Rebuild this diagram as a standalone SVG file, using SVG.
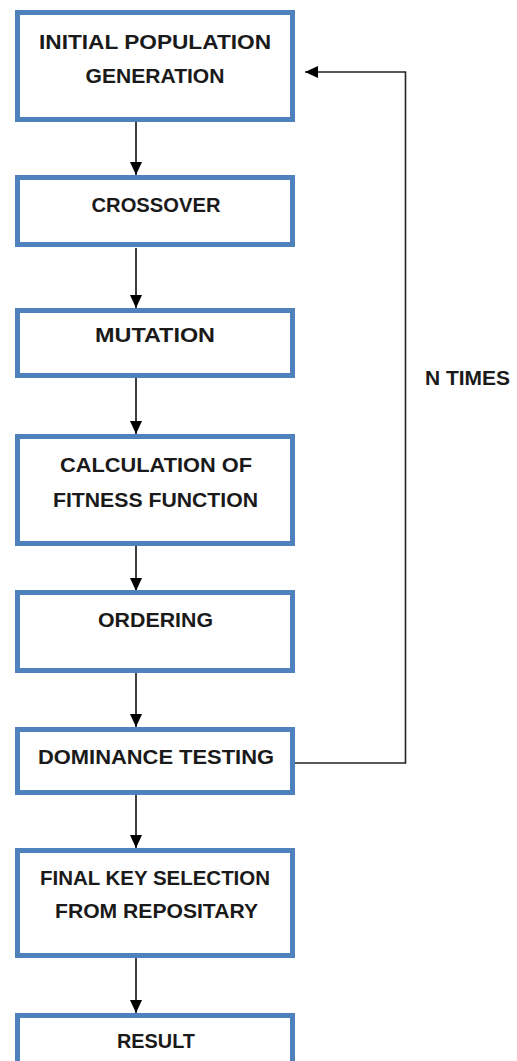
<svg xmlns="http://www.w3.org/2000/svg" width="517" height="1061" viewBox="0 0 517 1061">
  <defs>
    <marker id="arrow" markerUnits="userSpaceOnUse" markerWidth="14" markerHeight="12" viewBox="0 0 14 12" refX="13" refY="6" orient="auto">
      <path d="M0,0 L13,6 L0,12 Z" fill="#000"/>
    </marker>
    <style>
      .box { fill: #ffffff; stroke: #4f81bd; stroke-width: 5; }
      .lbl { font-family: "Liberation Sans", Arial, sans-serif; font-weight: bold; font-size: 21px; fill: #1a1a1a; text-anchor: middle; }
      .edge { fill: none; stroke: #000; stroke-width: 1.5; marker-end: url(#arrow); }
      .loop { fill: none; stroke: #222; stroke-width: 1.6; marker-end: url(#arrow); }
    </style>
  </defs>
  <rect width="517" height="1061" fill="#ffffff"/>

  <g id="connectors">
    <path class="edge" d="M136,122 V175"/>
    <path class="edge" d="M136,248 V308"/>
    <path class="edge" d="M136,378 V434"/>
    <path class="edge" d="M136,546 V591"/>
    <path class="edge" d="M136,673 V727"/>
    <path class="edge" d="M136,795 V848"/>
    <path class="edge" d="M136,958 V1013"/>
    <path class="loop" d="M295,763 H405.5 V72 H305"/>
  </g>

  <g id="node-initial">
    <rect class="box" x="17.5" y="12.5" width="275" height="107"/>
    <text class="lbl" x="155" y="49" textLength="232" lengthAdjust="spacingAndGlyphs">INITIAL POPULATION</text>
    <text class="lbl" x="155" y="83" textLength="139" lengthAdjust="spacingAndGlyphs">GENERATION</text>
  </g>

  <g id="node-crossover">
    <rect class="box" x="17.5" y="177.5" width="275" height="67"/>
    <text class="lbl" x="156" y="212" textLength="129" lengthAdjust="spacingAndGlyphs">CROSSOVER</text>
  </g>

  <g id="node-mutation">
    <rect class="box" x="17.5" y="310.5" width="275" height="65"/>
    <text class="lbl" x="155" y="342" textLength="120" lengthAdjust="spacingAndGlyphs">MUTATION</text>
  </g>

  <g id="node-fitness">
    <rect class="box" x="17.5" y="436.5" width="275" height="107"/>
    <text class="lbl" x="156" y="472" textLength="192" lengthAdjust="spacingAndGlyphs">CALCULATION OF</text>
    <text class="lbl" x="155.5" y="507" textLength="205" lengthAdjust="spacingAndGlyphs">FITNESS FUNCTION</text>
  </g>

  <g id="node-ordering">
    <rect class="box" x="17.5" y="592.5" width="275" height="78"/>
    <text class="lbl" x="155.5" y="627" textLength="115" lengthAdjust="spacingAndGlyphs">ORDERING</text>
  </g>

  <g id="node-dominance">
    <rect class="box" x="17.5" y="729.5" width="275" height="63"/>
    <text class="lbl" x="156" y="764" textLength="236" lengthAdjust="spacingAndGlyphs">DOMINANCE TESTING</text>
  </g>

  <g id="node-final">
    <rect class="box" x="17.5" y="850.5" width="275" height="105"/>
    <text class="lbl" x="155" y="885" textLength="230" lengthAdjust="spacingAndGlyphs">FINAL KEY SELECTION</text>
    <text class="lbl" x="156.5" y="918" textLength="203" lengthAdjust="spacingAndGlyphs">FROM REPOSITARY</text>
  </g>

  <g id="node-result">
    <rect class="box" x="17.5" y="1015.5" width="275" height="70"/>
    <text class="lbl" x="156" y="1048" textLength="78" lengthAdjust="spacingAndGlyphs">RESULT</text>
  </g>

  <g id="label-ntimes">
    <text class="lbl" x="467.5" y="385" textLength="85" lengthAdjust="spacingAndGlyphs">N TIMES</text>
  </g>
</svg>
